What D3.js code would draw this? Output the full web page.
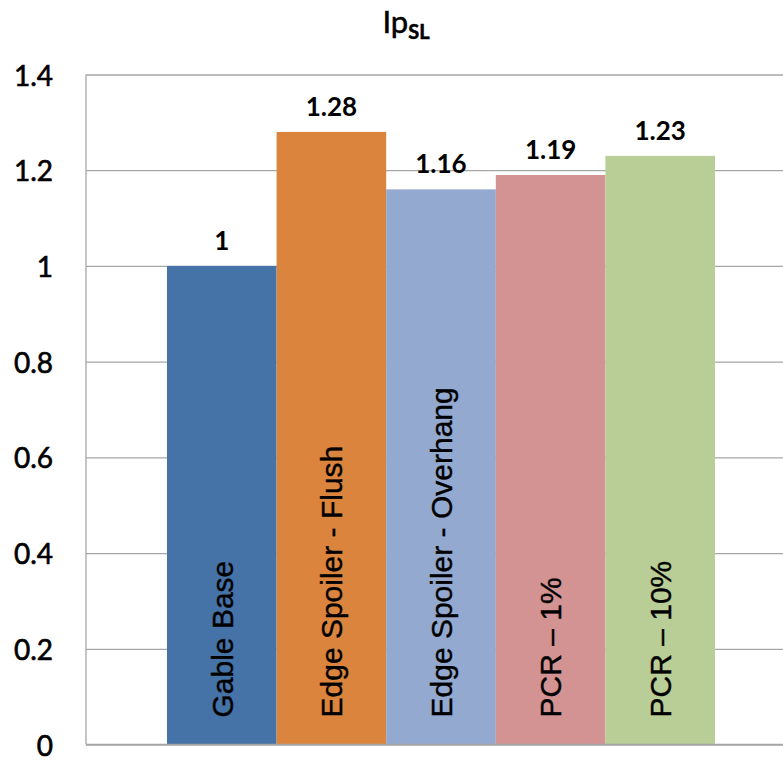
<!DOCTYPE html>
<html>
<head>
<meta charset="utf-8">
<script src="https://cdn.jsdelivr.net/npm/d3@7"></script>
<style>
  html, body { margin: 0; padding: 0; background: #fff; overflow: hidden; }
  svg { display: block; }
</style>
</head>
<body>
<svg id="chart" width="783" height="761"></svg>
<script>
const categories = ["Gable Base", "Edge Spoiler - Flush", "Edge Spoiler - Overhang", "PCR \u2013 1%", "PCR \u2013 10%"];
const values = [1.0, 1.28, 1.16, 1.19, 1.23];
const valueLabels = ["1", "1.28", "1.16", "1.19", "1.23"];
const colors = ["#4572A7", "#DB843D", "#93A9CF", "#D39393", "#B9CD96"];
const yTicks = [0, 0.2, 0.4, 0.6, 0.8, 1.0, 1.2, 1.4];
const yTickLabels = ["0", "0.2", "0.4", "0.6", "0.8", "1", "1.2", "1.4"];

const svg = d3.select("#chart");
const plot = { left: 86, right: 796, top: 74.5, bottom: 744.5 };

const x = d3.scaleBand().domain(categories).range([plot.left, plot.right])
  .paddingInner(0).paddingOuter(0.739);
const y = d3.scaleLinear().domain([0, 1.4]).range([plot.bottom, plot.top]);

// gridlines via axis
const grid = svg.append("g")
  .attr("transform", `translate(${plot.left},0)`)
  .call(d3.axisLeft(y).tickValues(yTicks).tickSize(-(plot.right - plot.left)).tickFormat(""));
grid.select(".domain").remove();
grid.selectAll(".tick line").attr("stroke", "#A6A6A6").attr("stroke-width", 1.3);

// left border
svg.append("line").attr("x1", plot.left).attr("x2", plot.left)
  .attr("y1", plot.top).attr("y2", plot.bottom).attr("stroke", "#A6A6A6").attr("stroke-width", 1.3);

// tick labels
const yAxis = svg.append("g")
  .attr("transform", `translate(53,0)`)
  .call(d3.axisLeft(y).tickValues(yTicks).tickSize(0).tickPadding(0)
    .tickFormat((d, i) => yTickLabels[i]));
yAxis.select(".domain").remove();
yAxis.selectAll(".tick text")
  .attr("font-family", "Lato, 'Open Sans', sans-serif")
  .attr("font-size", 28).attr("fill", "#000")
  .attr("stroke", "#000").attr("stroke-width", 0.6)
  .attr("dy", "0.38em");

// bars
svg.append("g").selectAll("rect").data(categories).join("rect")
  .attr("x", d => x(d))
  .attr("width", x.bandwidth())
  .attr("y", (d, i) => y(values[i]))
  .attr("height", (d, i) => y(0) - y(values[i]))
  .attr("fill", (d, i) => colors[i]);

// bottom axis line
svg.append("line").attr("x1", plot.left).attr("x2", plot.right)
  .attr("y1", plot.bottom).attr("y2", plot.bottom).attr("stroke", "#A6A6A6").attr("stroke-width", 1.3);

// value labels
svg.append("g").selectAll("text").data(categories).join("text")
  .attr("x", d => x(d) + x.bandwidth() / 2)
  .attr("y", (d, i) => y(values[i]) - 16)
  .attr("text-anchor", "middle")
  .attr("font-family", "Lato, 'Open Sans', sans-serif")
  .attr("font-weight", "bold")
  .attr("font-size", 26)
  .attr("fill", "#000")
  .text((d, i) => valueLabels[i]);

// category labels inside bars, rotated
svg.append("g").selectAll("text").data(categories).join("text")
  .attr("transform", d => `translate(${x(d) + x.bandwidth() / 2},${y(0) - 27}) rotate(-90)`)
  .attr("dy", "0.36em")
  .attr("text-anchor", "start")
  .attr("font-family", "'Liberation Sans', Arial, sans-serif")
  .attr("font-size", 30)
  .attr("fill", "#000")
  .attr("stroke", "#000").attr("stroke-width", 0.4)
  .text(d => d);

// title
const title = svg.append("text")
  .attr("x", 406).attr("y", 33)
  .attr("text-anchor", "middle")
  .attr("font-family", "Lato, 'Open Sans', sans-serif")
  .attr("font-size", 31)
  .attr("fill", "#000")
  .attr("stroke", "#000").attr("stroke-width", 0.5);
title.append("tspan").text("Ip");
title.append("tspan").attr("dy", 6).attr("font-size", 20).attr("font-weight", "bold").text("SL");
</script>
</body>
</html>
